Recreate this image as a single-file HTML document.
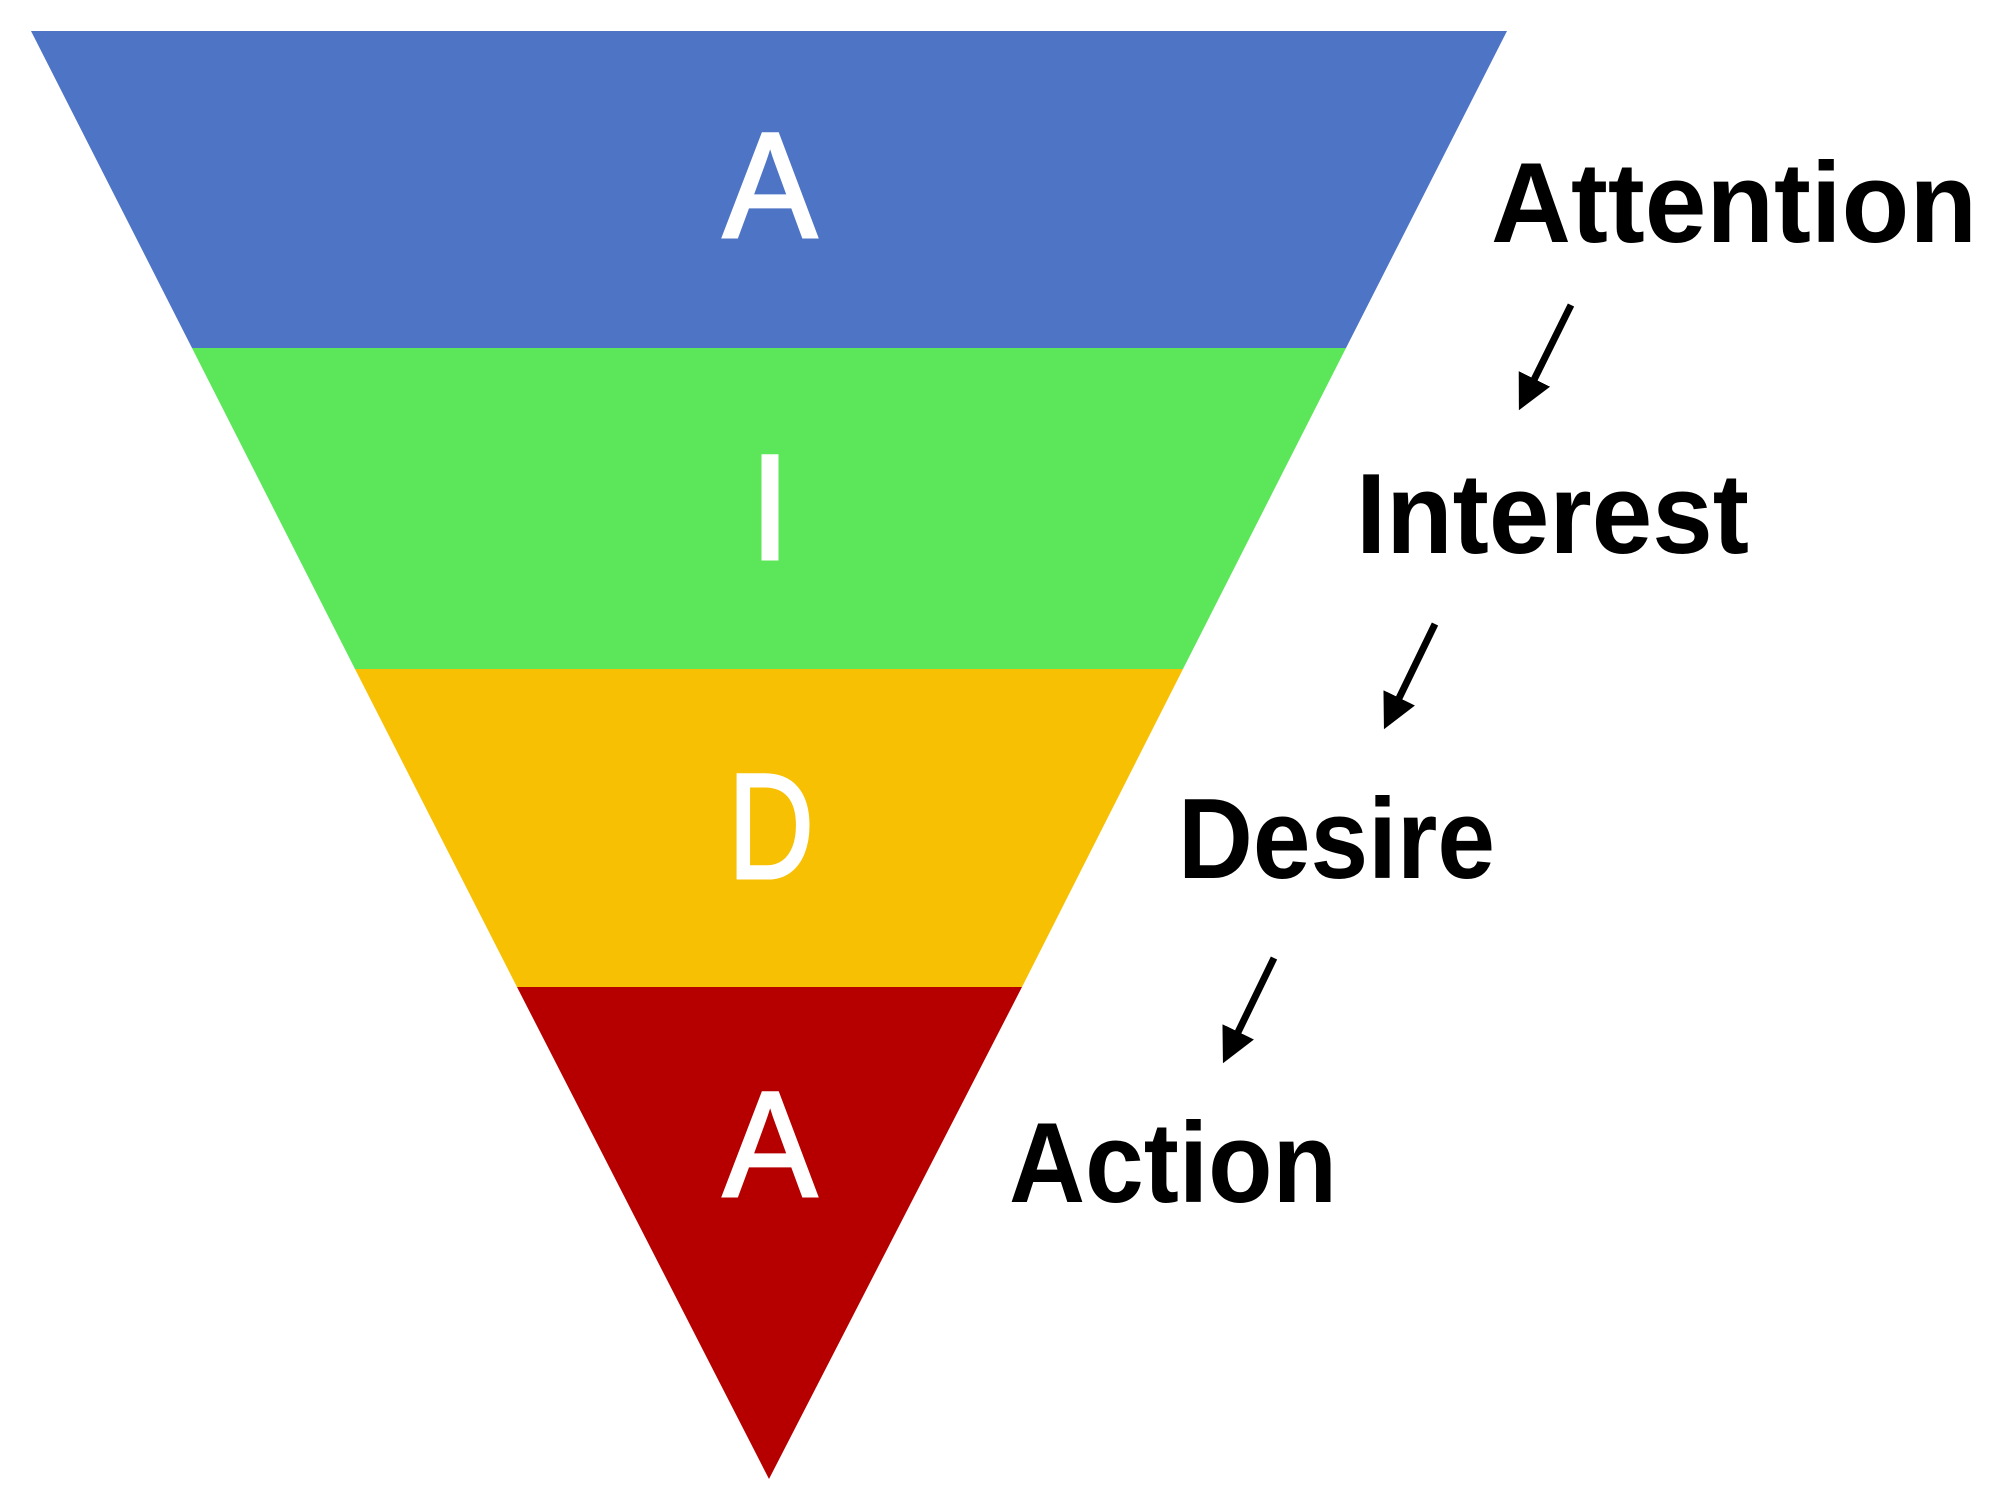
<!DOCTYPE html>
<html><head><meta charset="utf-8"><style>html,body{margin:0;padding:0;background:#fff;width:2016px;height:1489px;overflow:hidden}</style></head>
<body>
<svg width="2016" height="1489" viewBox="0 0 2016 1489" xmlns="http://www.w3.org/2000/svg">
<polygon points="31,31 1507,31 1346,348 192,348" fill="#4E74C6"/>
<polygon points="192,348 1346,348 1183,669 355,669" fill="#5CE65A"/>
<polygon points="355,669 1183,669 1022,987 517,987" fill="#F8C002"/>
<polygon points="517,987 1022,987 769,1479" fill="#B60000"/>
<g font-family="Liberation Sans, sans-serif" fill="#fff" stroke="#fff" stroke-width="3" font-size="150" text-anchor="middle">
<text x="770" y="237" textLength="94" lengthAdjust="spacingAndGlyphs">A</text>
<text x="770" y="559">I</text>
<text x="771" y="878" textLength="86" lengthAdjust="spacingAndGlyphs">D</text>
<text x="770" y="1196" textLength="94" lengthAdjust="spacingAndGlyphs">A</text>
</g>
<g font-family="Liberation Sans, sans-serif" font-weight="bold" fill="#000" font-size="114">
<text x="1491" y="242" textLength="486" lengthAdjust="spacingAndGlyphs">Attention</text>
<text x="1356" y="553" textLength="393" lengthAdjust="spacingAndGlyphs">Interest</text>
<text x="1178" y="878" textLength="317" lengthAdjust="spacingAndGlyphs">Desire</text>
<text x="1009" y="1202" textLength="328" lengthAdjust="spacingAndGlyphs">Action</text>
</g>
<defs><marker id="ah" markerWidth="5" markerHeight="5" refX="4" refY="2.5" orient="auto" markerUnits="strokeWidth"><path d="M0,0 L5,2.5 L0,5 z" fill="#000"/></marker></defs>
<g stroke="#000" stroke-width="7" marker-end="url(#ah)">
<line x1="1571" y1="305" x2="1522" y2="404"/>
<line x1="1435" y1="624" x2="1387" y2="723"/>
<line x1="1274" y1="958" x2="1226" y2="1057"/>
</g>
</svg>
</body></html>
